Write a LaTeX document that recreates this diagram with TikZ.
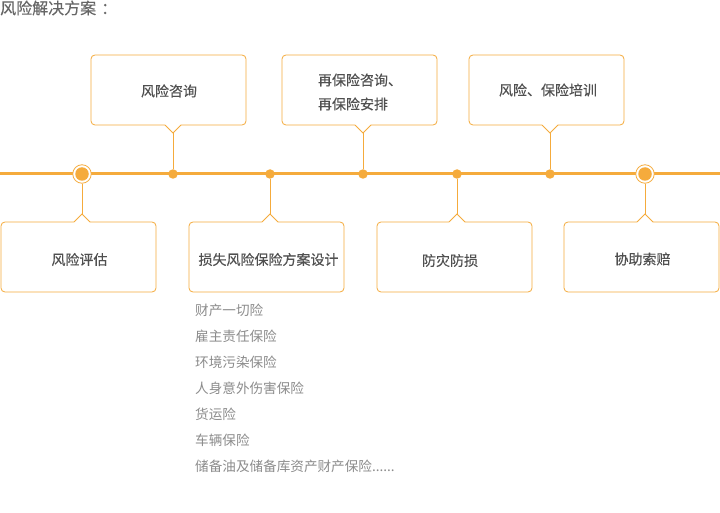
\documentclass[tikz,border=0pt]{standalone}
\usepackage{fontspec}
\setmainfont{Noto Sans CJK SC}
\newfontfamily\heavy[FakeBold=0.35]{Noto Sans CJK SC}
\definecolor{org}{RGB}{245,171,60}
\definecolor{txt}{RGB}{80,80,80}
\definecolor{ttl}{RGB}{102,102,102}
\definecolor{lst}{RGB}{140,140,140}
\begin{document}
\begin{tikzpicture}[x=1pt,y=-1pt,
  box/.style={draw=org, line width=0.8pt, rounded corners=4pt, minimum width=155pt,
    minimum height=70pt, fill=white, inner sep=0pt, align=center,
    font=\heavy\fontsize{14}{24}\selectfont, text=txt},
  conn/.style={draw=org, line width=0.9pt},
  mainline/.style={draw=org, line width=3pt},
  smalldot/.style={circle, fill=org, minimum size=9.5pt, inner sep=0pt},
  bigdot/.style={circle, fill=org, minimum size=13.5pt, inner sep=0pt},
  ring/.style={circle, draw=org, fill=white, line width=0.8pt, minimum size=18.5pt, inner sep=0pt},
  lbl/.style={inner sep=0pt, font=\heavy\fontsize{14}{24}\selectfont, text=txt, align=left}
]
\fill[white] (0,0) rectangle (720,513);
\useasboundingbox (0,0) rectangle (720,513);

% title
\node[anchor=west, inner sep=0pt, text=ttl, font=\heavy\fontsize{16}{18}\selectfont] (title) at (0,8) {风险解决方案\hspace{5pt}：};

% main line
\coordinate (L) at (0,174);
\coordinate (R) at (720,174);
\draw[mainline] (L) -- (R);

% boxes
\node[box] (b1) at (168.5,90) {};
\node[box] (b2) at (359.5,90) {};
\node[box] (b3) at (546.5,90) {};
\node[box] (b4) at (78.5,257) {};
\node[box] (b5) at (266.5,257) {};
\node[box] (b6) at (454.5,257) {};
\node[box] (b7) at (641.5,257) {};

% labels
\node[lbl] (l1) at (169,91) {风险咨询};
\node[lbl] (l2) at (360,92) {再保险咨询、\\再保险安排};
\node[lbl] (l3) at (548,90) {风险、保险培训};
\node[lbl] (l4) at (79.5,259.5) {风险评估};
\node[lbl] (l5) at (268.5,259.5) {损失风险保险方案设计};
\node[lbl] (l6) at (450,260.5) {防灾防损};
\node[lbl] (l7) at (642.5,259) {协助索赔};

% pointers (top boxes: pointing down)
\foreach \x/\n in {173/1,363/2,550/3}{
  \fill[white] (\x-8,124.3) rectangle (\x+8,126);
  \draw[conn, fill=white] (\x-8,125) -- (\x,133) -- (\x+8,125);
  \coordinate (t\n) at (\x,133);
}
% pointers (bottom boxes: pointing up)
\foreach \x/\n in {82/4,270/5,457/6,645/7}{
  \fill[white] (\x-8,221) rectangle (\x+8,222.7);
  \draw[conn, fill=white] (\x-8,222) -- (\x,214) -- (\x+8,222);
  \coordinate (t\n) at (\x,214);
}

% dots
\node[ring] (r4) at (82,174) {};
\node[bigdot] (d4) at (82,174) {};
\node[ring] (r7) at (645,174) {};
\node[bigdot] (d7) at (645,174) {};
\node[smalldot] (d1) at (173,174) {};
\node[smalldot] (d5) at (270,174) {};
\node[smalldot] (d2) at (363,174) {};
\node[smalldot] (d6) at (457,174) {};
\node[smalldot] (d3) at (550,174) {};

% connectors
\draw[conn] (t1) -- (d1.north);
\draw[conn] (t2) -- (d2.north);
\draw[conn] (t3) -- (d3.north);
\draw[conn] (r4.south) -- (t4);
\draw[conn] (d5.south) -- (t5);
\draw[conn] (d6.south) -- (t6);
\draw[conn] (r7.south) -- (t7);

% list
\node[anchor=north west, inner sep=0pt, align=left, text=lst,
  font=\fontsize{13.6}{26}\selectfont] (list) at (195,303.5)
  {财产一切险\\雇主责任保险\\环境污染保险\\人身意外伤害保险\\货运险\\车辆保险\\储备油及储备库资产财产保险......};
\end{tikzpicture}
\end{document}
